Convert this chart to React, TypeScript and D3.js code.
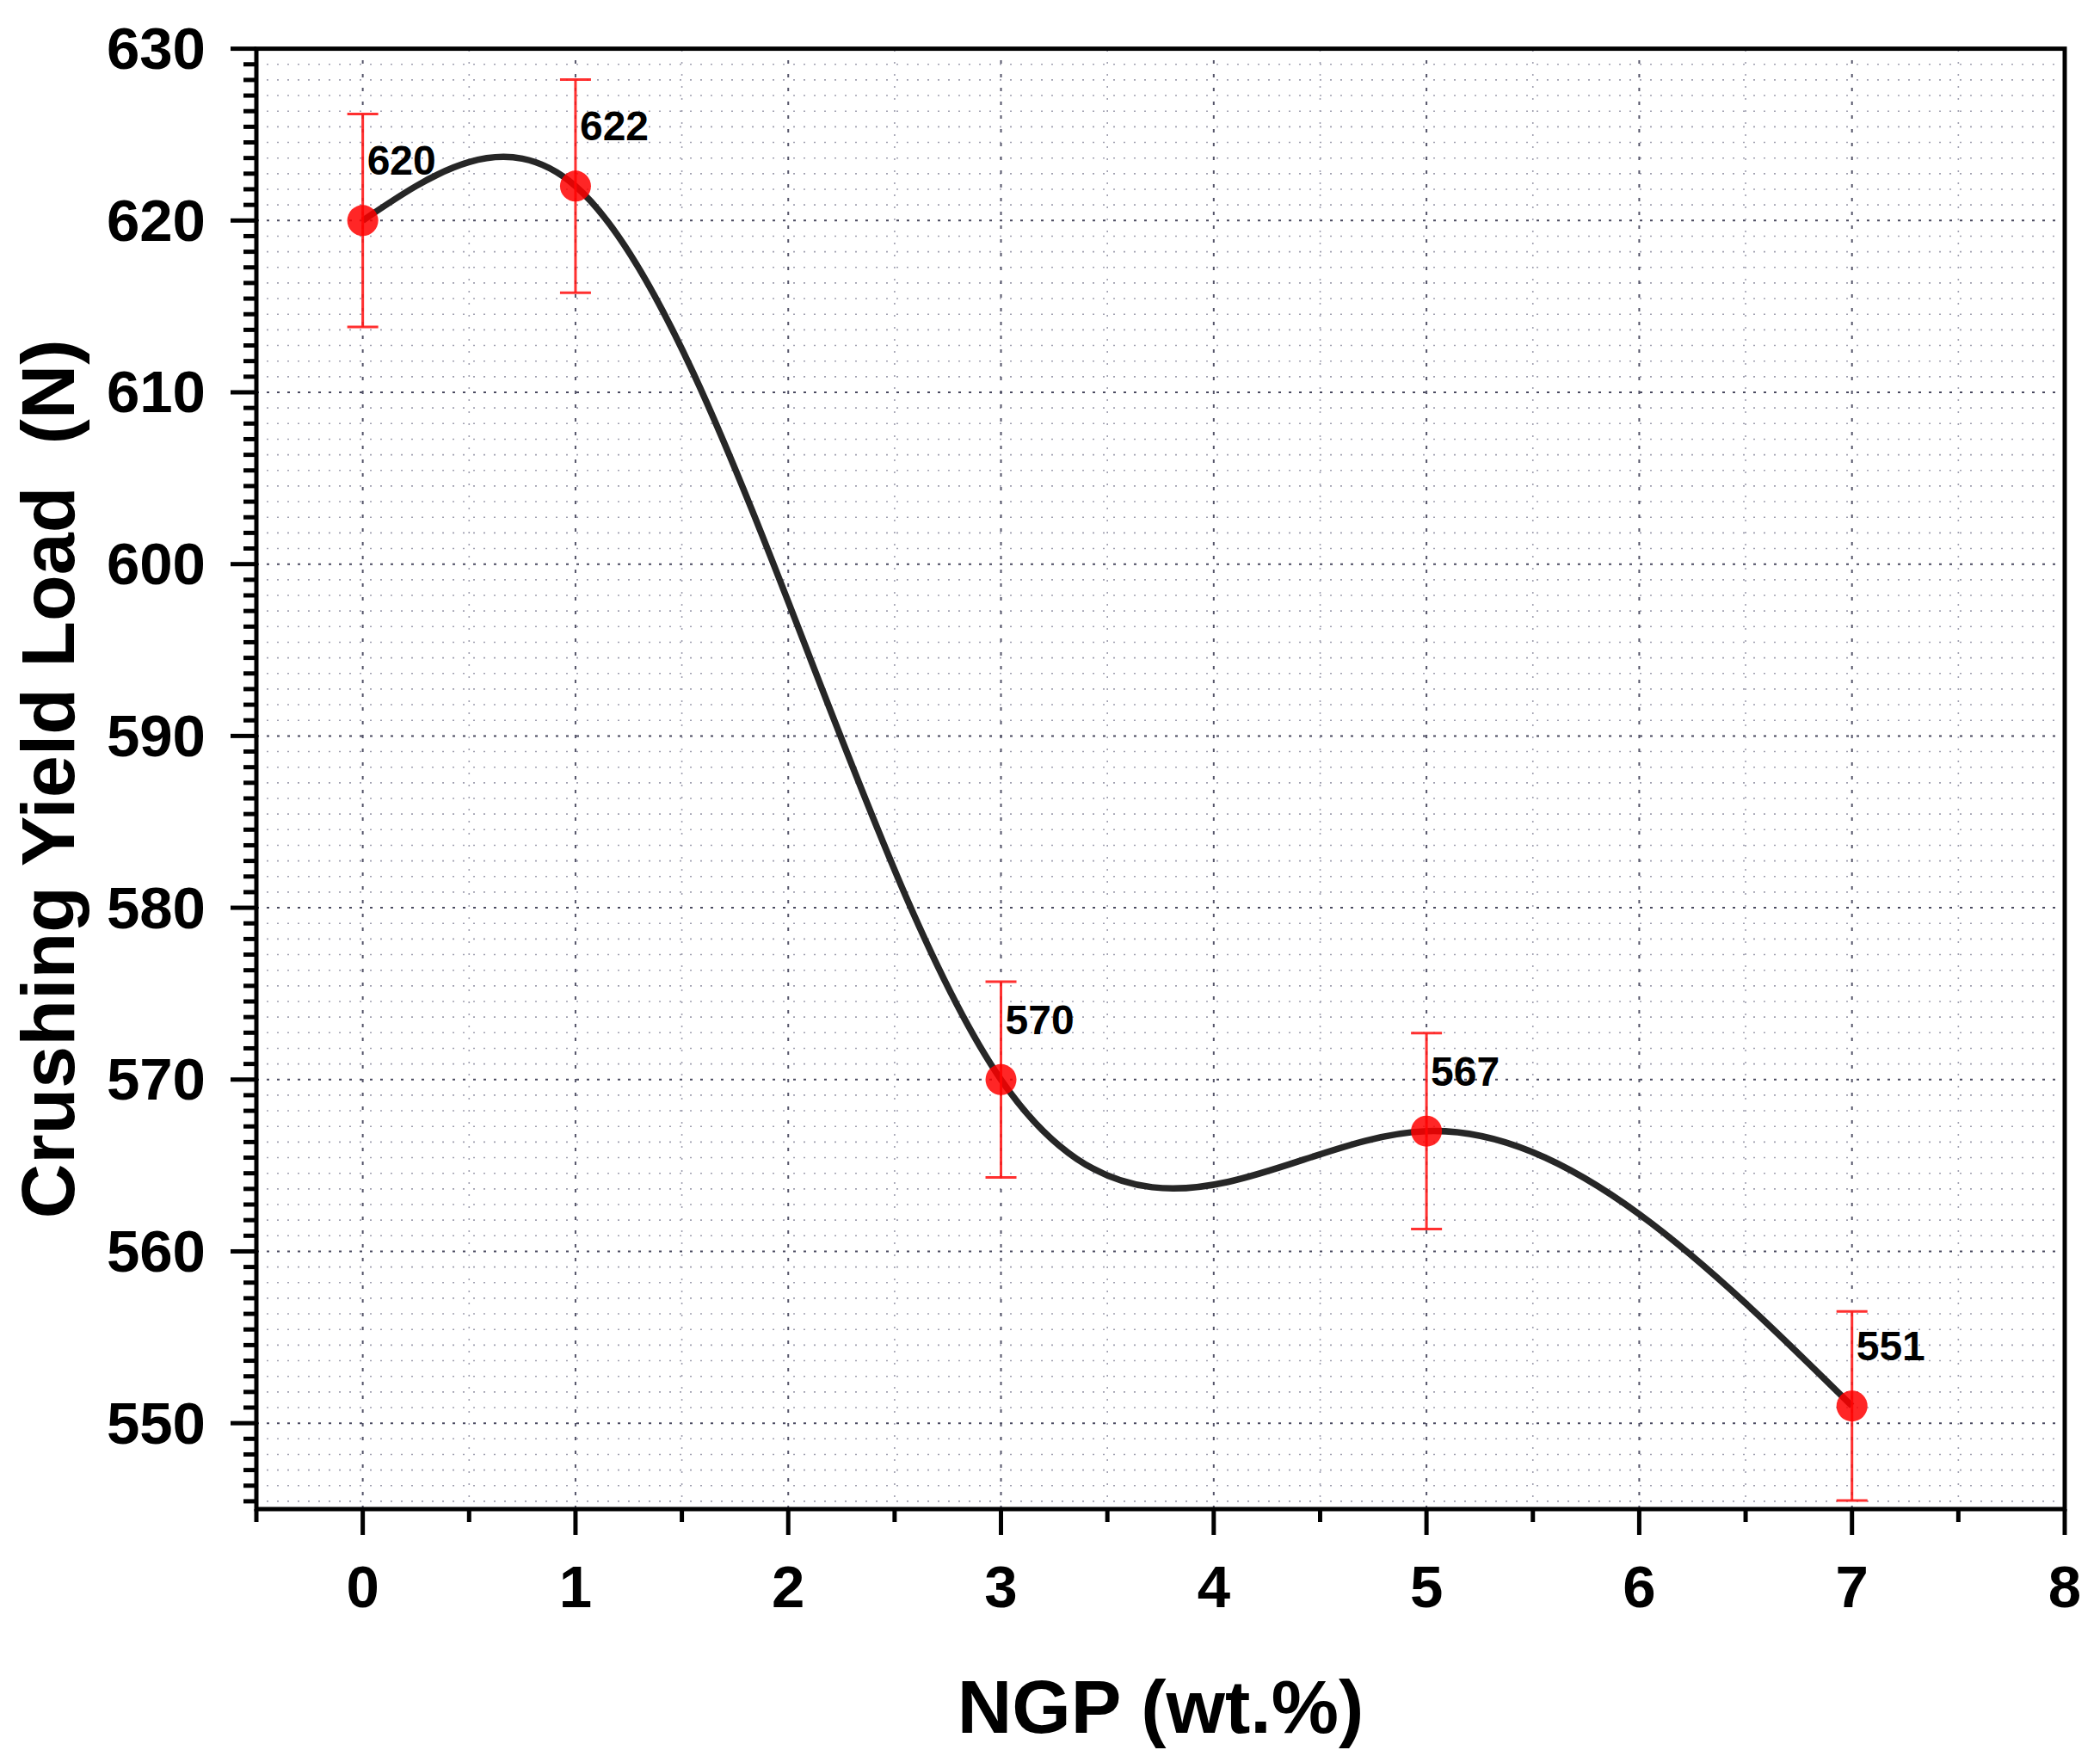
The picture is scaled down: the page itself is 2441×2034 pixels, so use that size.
import * as d3 from "d3";

const ngp = [0, 1, 3, 5, 7];
const load = [620, 622, 570, 567, 551];
const loadErr = [6.2, 6.2, 5.7, 5.7, 5.5];
const xTicks = [0, 1, 2, 3, 4, 5, 6, 7, 8];
const yTicks = [550, 560, 570, 580, 590, 600, 610, 620, 630];

const width = 2441;
const height = 2034;
const margin = { top: 56.6, right: 41, bottom: 280, left: 298 };
const font = "'Liberation Sans', Arial, sans-serif";

// natural cubic spline y(x), like Origin's spline connector (uneven x spacing)
class NaturalXCurve {
  _context: any;
  _x: number[] = [];
  _y: number[] = [];
  constructor(context: any) {
    this._context = context;
  }
  areaStart() {}
  areaEnd() {}
  lineStart() {
    this._x = [];
    this._y = [];
  }
  point(x: number, y: number) {
    this._x.push(+x);
    this._y.push(+y);
  }
  lineEnd() {
    const xs = this._x, ys = this._y, n = xs.length;
    const ctx = this._context;
    if (!n) return;
    ctx.moveTo(xs[0], ys[0]);
    if (n === 2) {
      ctx.lineTo(xs[1], ys[1]);
      return;
    }
    const h: number[] = [], s: number[] = [];
    for (let i = 0; i < n - 1; i++) {
      h[i] = xs[i + 1] - xs[i];
      s[i] = (ys[i + 1] - ys[i]) / h[i];
    }
    const m = n - 2;
    const a: number[] = [], b: number[] = [], c: number[] = [], d: number[] = [];
    for (let k = 0; k < m; k++) {
      const i = k + 1;
      a[k] = h[i - 1];
      b[k] = 2 * (h[i - 1] + h[i]);
      c[k] = h[i];
      d[k] = 6 * (s[i] - s[i - 1]);
    }
    for (let k = 1; k < m; k++) {
      const w = a[k] / b[k - 1];
      b[k] -= w * c[k - 1];
      d[k] -= w * d[k - 1];
    }
    const M = new Array(n).fill(0);
    for (let k = m - 1; k >= 0; k--) {
      M[k + 1] = (d[k] - (k < m - 1 ? c[k] * M[k + 2] : 0)) / b[k];
    }
    for (let i = 0; i < n - 1; i++) {
      const d0 = s[i] - (h[i] * (2 * M[i] + M[i + 1])) / 6;
      const d1 = s[i] + (h[i] * (M[i] + 2 * M[i + 1])) / 6;
      ctx.bezierCurveTo(
        xs[i] + h[i] / 3, ys[i] + (d0 * h[i]) / 3,
        xs[i + 1] - h[i] / 3, ys[i + 1] - (d1 * h[i]) / 3,
        xs[i + 1], ys[i + 1]
      );
    }
  }
}

const App = () => {
  const x = d3.scaleLinear().domain([-0.5, 8]).range([margin.left, width - margin.right]);
  const y = d3.scaleLinear().domain([545, 630]).range([height - margin.bottom, margin.top]);
  const x0 = margin.left, x1 = width - margin.right;
  const y0 = height - margin.bottom, y1 = margin.top;

  // Origin-style: 10 minor ticks between majors on y (11 steps), one on x
  const yStep = 10 / 11;
  const yAll = d3.range(-5, 88).map((k) => 550 + k * yStep).filter((v) => v >= 545 - 1e-6 && v <= 630 + 1e-6);
  const isMajorY = (v: number) => Math.abs(v - Math.round(v / 10) * 10) < 1e-6;
  const yMinor = yAll.filter((v) => !isMajorY(v));
  const xMinor = d3.range(-0.5, 8, 1);
  const vGrid = d3.range(0, 8, 0.5);

  const line = d3
    .line<number>()
    .x((_, i) => x(ngp[i]))
    .y((d) => y(d))
    .curve((ctx: any) => new NaturalXCurve(ctx) as any);

  const pts = ngp.map((v, i) => ({ x: v, y: load[i], e: loadErr[i] }));

  return (
    <svg width={width} height={height} style={{ position: "absolute", left: 0, top: 0, background: "#fff" }}>
      <rect x={0} y={0} width={width} height={height} fill="#fff" />
      {/* grid */}
      <g>
        {yAll.filter((v) => v > 545.01 && v < 629.99).map((v) => (
          <line key={"h" + v} x1={x0} x2={x1} y1={y(v)} y2={y(v)}
            stroke={isMajorY(v) ? "#4a4a60" : "#a0a0b0"}
            strokeWidth={isMajorY(v) ? 2 : 1.6}
            strokeDasharray={isMajorY(v) ? "3 9" : "2 10"} />
        ))}
        {vGrid.map((v) => (
          <line key={"v" + v} x1={x(v)} x2={x(v)} y1={y0} y2={y1}
            stroke={v % 1 === 0 ? "#55556a" : "#a0a0b0"}
            strokeWidth={v % 1 === 0 ? 2 : 1.6}
            strokeDasharray={v % 1 === 0 ? "4 12" : "2 12"} />
        ))}
      </g>
      {/* spline */}
      <path d={line(load) || ""} fill="none" stroke="#262626" strokeWidth={7.5} />
      {/* error bars and points */}
      <g stroke="#ff1a1a" strokeOpacity={0.9} strokeWidth={3}>
        {pts.map((p) => (
          <g key={"e" + p.x}>
            <line x1={x(p.x)} x2={x(p.x)} y1={y(p.y - p.e)} y2={y(p.y + p.e)} />
            <line x1={x(p.x) - 18} x2={x(p.x) + 18} y1={y(p.y - p.e)} y2={y(p.y - p.e)} />
            <line x1={x(p.x) - 18} x2={x(p.x) + 18} y1={y(p.y + p.e)} y2={y(p.y + p.e)} />
          </g>
        ))}
      </g>
      {pts.map((p) => (
        <circle key={"c" + p.x} cx={x(p.x)} cy={y(p.y)} r={18} fill="#ff0000" fillOpacity={0.85} />
      ))}
      {pts.map((p) => (
        <text key={"t" + p.x} x={x(p.x) + 5} y={y(p.y) - 53} fontFamily={font} fontWeight="bold"
          fontSize={48} fill="#000">
          {p.y}
        </text>
      ))}
      {/* frame */}
      <g stroke="#000" strokeWidth={5} fill="none">
        <rect x={x0} y={y1} width={x1 - x0} height={y0 - y1} strokeLinecap="square" />
        {yTicks.map((v) => (
          <line key={"ym" + v} x1={x0 - 30} x2={x0} y1={y(v)} y2={y(v)} />
        ))}
        {yMinor.map((v) => (
          <line key={"yn" + v} x1={x0 - 15} x2={x0} y1={y(v)} y2={y(v)} />
        ))}
        {xTicks.map((v) => (
          <line key={"xm" + v} x1={x(v)} x2={x(v)} y1={y0} y2={y0 + 30} />
        ))}
        {xMinor.map((v) => (
          <line key={"xn" + v} x1={x(v)} x2={x(v)} y1={y0} y2={y0 + 15} />
        ))}
      </g>
      {/* tick labels */}
      <g fontFamily={font} fontWeight="bold" fontSize={69} fill="#000">
        {yTicks.map((v) => (
          <text key={"yl" + v} x={239} y={y(v)} textAnchor="end" dominantBaseline="central">
            {v}
          </text>
        ))}
        {xTicks.map((v) => (
          <text key={"xl" + v} x={x(v)} y={1868} textAnchor="middle">
            {v}
          </text>
        ))}
      </g>
      {/* axis titles */}
      <text x={(x0 + x1) / 2} y={2014} textAnchor="middle" fontFamily={font} fontWeight="bold" fontSize={88}>
        NGP (wt.%)
      </text>
      <text transform={`translate(86,${(y0 + y1) / 2}) rotate(-90)`} textAnchor="middle" fontFamily={font}
        fontWeight="bold" fontSize={88} style={{ whiteSpace: "pre" }}>
        {"Crushing Yield Load  (N)"}
      </text>
    </svg>
  );
};

export default App;
